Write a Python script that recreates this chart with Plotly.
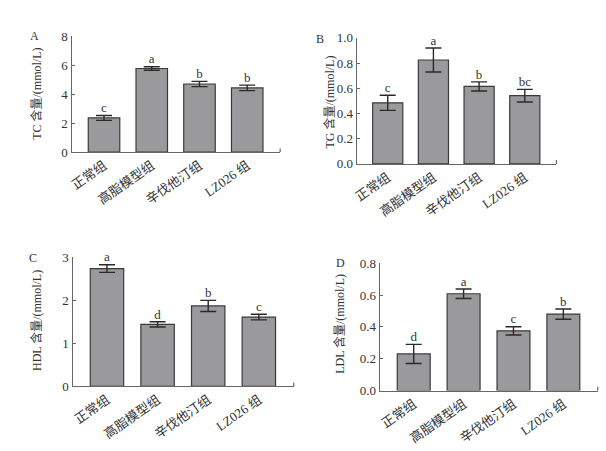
import plotly.graph_objects as go

categories = ["正常组", "高脂模型组", "辛伐他汀组", "LZ026 组"]

tc_values = [2.35, 5.76, 4.69, 4.42]
tc_errors = [0.17, 0.12, 0.18, 0.19]
tc_letters = ["c", "a", "b", "b"]

tg_values = [0.485, 0.825, 0.615, 0.542]
tg_errors = [0.060, 0.095, 0.036, 0.050]
tg_letters = ["c", "a", "b", "bc"]

hdl_values = [2.74, 1.44, 1.87, 1.61]
hdl_errors = [0.09, 0.06, 0.13, 0.065]
hdl_letters = ["a", "d", "b", "c"]

ldl_values = [0.23, 0.608, 0.375, 0.48]
ldl_errors = [0.06, 0.03, 0.026, 0.032]
ldl_letters = ["d", "a", "c", "b"]

W, H = 606, 451

panels = [
    dict(v=tc_values, e=tc_errors, l=tc_letters, title="TC 含量/(mmol/L)", label="A",
         box=(68, 278, 30, 150), rng=[0, 8], dtick=2, tickfmt="d",
         title_pos=(32, 90), label_pos=(31, 30)),
    dict(v=tg_values, e=tg_errors, l=tg_letters, title="TG 含量/(mmol/L)", label="B",
         box=(355, 556, 32, 162.3), rng=[0, 1.0], dtick=0.2, tickfmt=".1f",
         title_pos=(328, 98), label_pos=(318, 33)),
    dict(v=hdl_values, e=hdl_errors, l=hdl_letters, title="HDL 含量/(mmol/L)", label="C",
         box=(69, 291.7, 259, 392.3), rng=[0, 3], dtick=1, tickfmt="d",
         title_pos=(32, 324), label_pos=(29, 260)),
    dict(v=ldl_values, e=ldl_errors, l=ldl_letters, title="LDL 含量/(mmol/L)", label="D",
         box=(378.3, 597.7, 265, 396.7), rng=[0, 0.8], dtick=0.2, tickfmt=".1f",
         title_pos=(337, 328), label_pos=(339, 265)),
]

FONT = "Liberation Serif, 'Noto Sans CJK SC', serif"
AXIS_COLOR = "#666666"

fig = go.Figure()
layout = dict(
    width=W, height=H, margin=dict(l=0, r=0, t=0, b=0),
    paper_bgcolor="white", plot_bgcolor="white", showlegend=False,
    font=dict(family=FONT, size=12, color="#333333"),
)
annotations = []
shapes = []

for i, p in enumerate(panels, start=1):
    xa = "x" if i == 1 else f"x{i}"
    ya = "y" if i == 1 else f"y{i}"
    x0, x1, y0, y1 = p["box"]
    fig.add_trace(go.Bar(
        x=categories, y=p["v"], xaxis=xa, yaxis=ya, width=0.66,
        marker=dict(color="#9a9a9c", line=dict(color="#3a3a3a", width=1.2)),
        error_y=dict(type="data", array=p["e"], visible=True, color="#2a2a2a",
                     thickness=1.4, width=8),
    ))
    tops = [v + e for v, e in zip(p["v"], p["e"])]
    fig.add_trace(go.Scatter(
        x=categories, y=tops, xaxis=xa, yaxis=ya, mode="text", text=p["l"],
        textposition="top center", textfont=dict(family=FONT, size=13, color="#333333"),
        cliponaxis=False, hoverinfo="skip",
    ))
    xkey = "xaxis" if i == 1 else f"xaxis{i}"
    ykey = "yaxis" if i == 1 else f"yaxis{i}"
    layout[xkey] = dict(
        domain=[x0 / W, x1 / W], anchor=ya, range=[-0.68, 3.69],
        showline=True, linecolor=AXIS_COLOR, linewidth=1.2, ticks="",
        tickangle=-35, tickfont=dict(family=FONT, size=13, color="#333333"),
        showgrid=False, zeroline=False, fixedrange=True,
    )
    layout[ykey] = dict(
        domain=[1 - y1 / H, 1 - y0 / H], anchor=xa, range=p["rng"], dtick=p["dtick"],
        tick0=0, tickformat=p["tickfmt"],
        showline=True, linecolor=AXIS_COLOR, linewidth=1.2, ticks="inside",
        ticklen=3, tickcolor=AXIS_COLOR, tickfont=dict(family=FONT, size=13, color="#333333"),
        showgrid=False, zeroline=False, fixedrange=True,
    )
    shapes.append(dict(type="line", xref=f"{xa} domain", yref=f"{ya} domain",
                       x0=1, x1=1, y0=0, y1=0.03, line=dict(color=AXIS_COLOR, width=1.2)))
    tx, ty = p["title_pos"]
    annotations.append(dict(text=p["title"], x=tx / W, y=1 - ty / H, xref="paper", yref="paper",
                            textangle=-90, showarrow=False, xanchor="center", yanchor="middle",
                            font=dict(family=FONT, size=12, color="#333333")))
    lx, ly = p["label_pos"]
    annotations.append(dict(text=p["label"], x=lx / W, y=1 - ly / H, xref="paper", yref="paper",
                            showarrow=False, xanchor="center", yanchor="middle",
                            font=dict(family=FONT, size=12, color="#333333")))

layout["annotations"] = annotations
layout["shapes"] = shapes
fig.update_layout(**layout)
fig.write_html("out.html")
